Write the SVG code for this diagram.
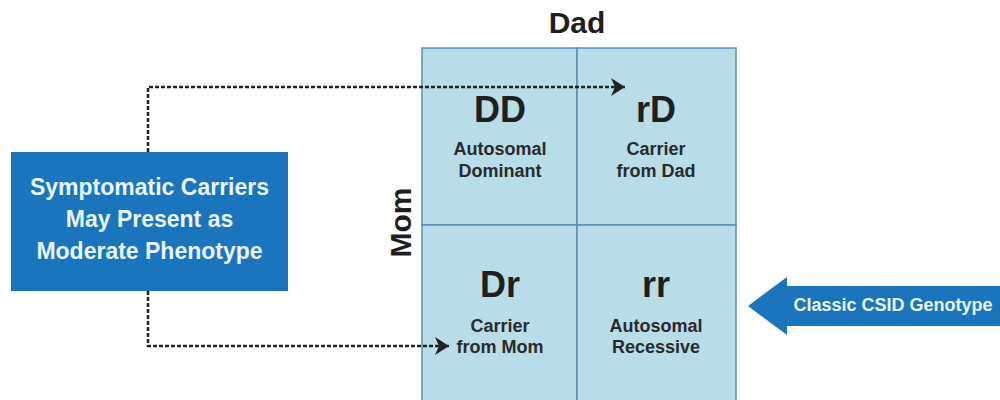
<svg xmlns="http://www.w3.org/2000/svg" width="1000" height="400" viewBox="0 0 1000 400">
<style>
text{font-family:"Liberation Sans",Arial,sans-serif;font-weight:bold;text-anchor:middle}
.cell{fill:#b8dde8;stroke:#5a8fb8;stroke-width:1.5}
.geno{font-size:36px;fill:#1f1f1f}
.sub{font-size:18px;fill:#2a2a2a}
.lbl{font-size:30px;fill:#1f1f1f}
.box{font-size:23px;fill:#e8f5fc}
.dash{fill:none;stroke:#222;stroke-width:2.5;stroke-dasharray:4 2}
</style>
<defs>
<marker id="chev" markerUnits="userSpaceOnUse" markerWidth="14" markerHeight="18" refX="14" refY="9" orient="auto" viewBox="0 0 14 18">
<path d="M0,0 L14,9 L0,18 L4,9 Z" fill="#222"/>
</marker>
</defs>
<rect width="1000" height="400" fill="#fff"/>
<text class="lbl" x="577" y="33">Dad</text>
<text class="lbl" transform="translate(411,222.5) rotate(-90)">Mom</text>
<g id="cell-DD">
<rect class="cell" x="422" y="48" width="155" height="177"/>
<text class="geno" x="500" y="122">DD</text>
<text class="sub" x="500" y="155">Autosomal</text>
<text class="sub" x="500" y="177">Dominant</text>
</g>
<g id="cell-rD">
<rect class="cell" x="577" y="48" width="159" height="177"/>
<text class="geno" x="656" y="122">rD</text>
<text class="sub" x="656" y="155">Carrier</text>
<text class="sub" x="656" y="177">from Dad</text>
</g>
<g id="cell-Dr">
<rect class="cell" x="422" y="225" width="155" height="180"/>
<text class="geno" x="500" y="297">Dr</text>
<text class="sub" x="500" y="332">Carrier</text>
<text class="sub" x="500" y="353">from Mom</text>
</g>
<g id="cell-rr">
<rect class="cell" x="577" y="225" width="159" height="180"/>
<text class="geno" x="656" y="297">rr</text>
<text class="sub" x="656" y="332">Autosomal</text>
<text class="sub" x="656" y="353">Recessive</text>
</g>
<g id="carriers">
<rect x="11" y="152" width="277" height="139" fill="#1b75bc"/>
<text class="box" x="149.5" y="195">Symptomatic Carriers</text>
<text class="box" x="149.5" y="227">May Present as</text>
<text class="box" x="149.5" y="259">Moderate Phenotype</text>
</g>
<g id="classic">
<path d="M748,306 L787,277 L787,286 L1000,286 L1000,326 L787,326 L787,335 Z" fill="#1b75bc"/>
<text x="893" y="311" style="font-size:18px;fill:#e8f5fc">Classic CSID Genotype</text>
</g>
<g id="connectors">
<path class="dash" d="M148,152 L148,87 L625,87" marker-end="url(#chev)"/>
<path class="dash" d="M148,291 L148,346 L449,346" marker-end="url(#chev)"/>
</g>
</svg>
